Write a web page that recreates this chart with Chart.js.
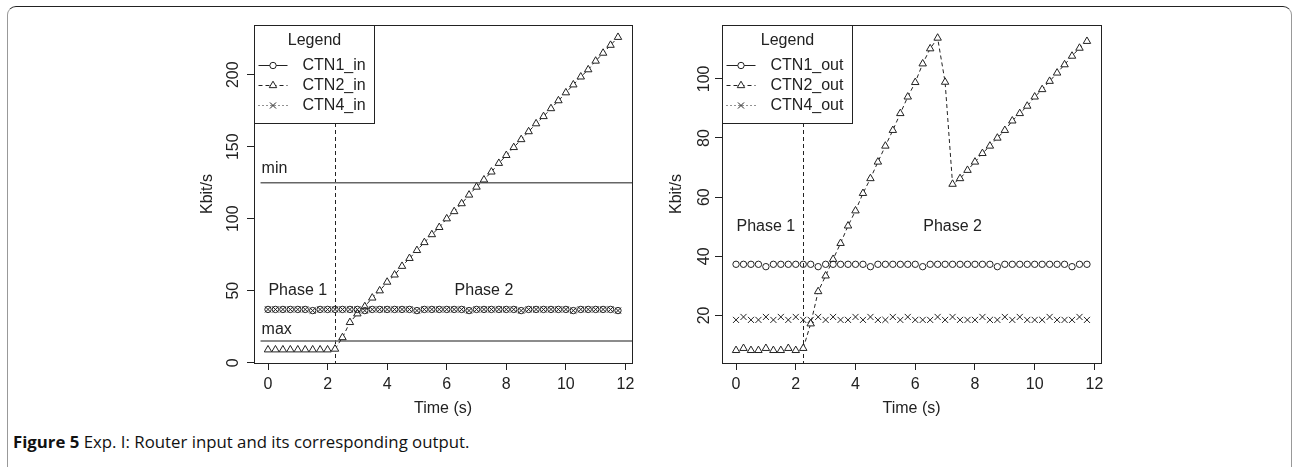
<!DOCTYPE html>
<html>
<head>
<meta charset="utf-8">
<script src="https://cdn.jsdelivr.net/npm/chart.js@4.4.1/dist/chart.umd.min.js"></script>
<style>
  html, body { margin: 0; padding: 0; background: #fff; }
  body { width: 1292px; height: 467px; position: relative; overflow: hidden; }
  .frame {
    position: absolute; left: 7px; top: 6px; width: 1285px; height: 520px;
    border-top: 1.5px solid #222; border-left: 1px solid #999; border-right: 1px solid #999;
    border-radius: 9px 9px 0 0; box-sizing: border-box;
  }
  .panel { position: absolute; top: 0; width: 480px; height: 430px; }
  #left { left: 180px; }
  #right { left: 660px; }
  .caption {
    position: absolute; left: 13px; top: 430px; white-space: nowrap;
    font: 16.8px 'Open Sans', sans-serif; color: #111;
  }
  .caption b { font-weight: 700; }
</style>
</head>
<body>
<div class="frame"></div>
<div class="panel" id="left"><canvas id="chart-in"></canvas></div>
<div class="panel" id="right"><canvas id="chart-out"></canvas></div>
<div class="caption"><b>Figure 5</b> Exp. I: Router input and its corresponding output.</div>
<script>
// Time axis (s), one sample every 0.25 s
const TIME = [0, 0.25, 0.5, 0.75, 1, 1.25, 1.5, 1.75, 2, 2.25,
  2.5, 2.75, 3, 3.25, 3.5, 3.75, 4, 4.25, 4.5, 4.75,
  5, 5.25, 5.5, 5.75, 6, 6.25, 6.5, 6.75, 7, 7.25,
  7.5, 7.75, 8, 8.25, 8.5, 8.75, 9, 9.25, 9.5, 9.75,
  10, 10.25, 10.5, 10.75, 11, 11.25, 11.5, 11.75]

// Router input (Kbit/s)
const CTN1_IN = [37, 37, 37, 37, 37, 37, 36.2, 37, 37, 37,
  37, 37, 37, 36.2, 37, 37, 37, 37, 37, 37,
  36.2, 37, 37, 37, 37, 37, 37, 36.2, 37, 37,
  37, 37, 37, 37, 36.2, 37, 37, 37, 37, 37,
  37, 36.2, 37, 37, 37, 37, 37, 36.2]
const CTN2_IN = [9, 9, 9, 9, 9, 9, 9, 9, 9, 9.5,
  17.5, 28, 34, 39, 45, 50, 56, 61, 67, 72.5,
  78, 83.5, 89, 94, 100, 105, 110.5, 116.5, 122, 127,
  132.5, 138.5, 144, 149.5, 155, 160.5, 166, 171, 176.5, 182,
  187.5, 193, 198.5, 203.5, 209.5, 215, 220.5, 226]
const CTN4_IN = [37, 37, 37, 37, 37, 37, 36.2, 37, 37, 37,
  37, 37, 37, 36.2, 37, 37, 37, 37, 37, 37,
  36.2, 37, 37, 37, 37, 37, 37, 36.2, 37, 37,
  37, 37, 37, 37, 36.2, 37, 37, 37, 37, 37,
  37, 36.2, 37, 37, 37, 37, 37, 36.2]

// Router output (Kbit/s)
const CTN1_OUT = [37.3, 37.3, 37.3, 37.3, 36.5, 37.3, 37.3, 37.3, 37.3, 37.3,
  37.3, 36.5, 37.3, 37.3, 37.3, 37.3, 37.3, 37.3, 36.5, 37.3,
  37.3, 37.3, 37.3, 37.3, 37.3, 36.5, 37.3, 37.3, 37.3, 37.3,
  37.3, 37.3, 37.3, 37.3, 37.3, 36.5, 37.3, 37.3, 37.3, 37.3,
  37.3, 37.3, 37.3, 37.3, 37.3, 36.5, 37.3, 37.3]
const CTN2_OUT = [8.2, 8.9, 8.2, 8.2, 8.9, 8.2, 8.2, 8.9, 8.2, 8.9,
  17.2, 28.1, 33.4, 39, 44.4, 50.3, 55.4, 61.3, 66.3, 71.9,
  77.3, 82.6, 88.3, 93.9, 98.8, 105.1, 110.2, 113.8, 98.9, 64.4,
  66.3, 69.1, 71.9, 74.8, 77.3, 80, 82.6, 85.8, 88.3, 90.8,
  93.9, 96.4, 99.2, 102, 104.8, 107.7, 110.4, 112.7]
const CTN4_OUT = [18.5, 19.5, 18.5, 18.5, 19.5, 18.5, 19.5, 18.5, 19.5, 18.5,
  18.5, 19.5, 18.5, 19.5, 18.5, 18.5, 19.5, 18.5, 19.5, 18.5,
  18.5, 19.5, 18.5, 19.5, 18.5, 18.5, 18.5, 19.5, 18.5, 19.5,
  18.5, 18.5, 18.5, 19.5, 18.5, 18.5, 19.5, 18.5, 19.5, 18.5,
  18.5, 18.5, 19.5, 18.5, 18.5, 18.5, 19.5, 18.5]

const IN_LABELS = ['CTN1_in', 'CTN2_in', 'CTN4_in']
const OUT_LABELS = ['CTN1_out', 'CTN2_out', 'CTN4_out']

const X_TICKS = [0, 2, 4, 6, 8, 10, 12]
const IN_Y_TICKS = [0, 50, 100, 150, 200]
const OUT_Y_TICKS = [20, 40, 60, 80, 100]

const PHASE_SWITCH = 2.25 // s
const RATE_MIN = 125
const RATE_MAX = 15

const TEXT = '#222'
const FONT = "'Liberation Sans', Arial, sans-serif"
const GAP = 9 // segments shorter than this many px are hidden (R type="b")

const STYLES = [
  { pointStyle: 'circle', pointRadius: 3.2, borderDash: [], fill: 'transparent' },
  { pointStyle: 'triangle', pointRadius: 4.3, borderDash: [4, 3], fill: '#fff' },
  { pointStyle: 'crossRot', pointRadius: 4.3, borderDash: [1, 3], fill: 'transparent' },
]

function drawMarker(ctx, style, x, y, r) {
  ctx.beginPath()
  if (style === 'circle') {
    ctx.arc(x, y, r, 0, Math.PI * 2)
    ctx.fill()
  } else if (style === 'triangle') {
    ctx.moveTo(x, y - r)
    ctx.lineTo(x + 0.866 * r, y + 0.5 * r)
    ctx.lineTo(x - 0.866 * r, y + 0.5 * r)
    ctx.closePath()
    ctx.fill()
  } else {
    const d = 0.707 * r
    ctx.moveTo(x - d, y - d); ctx.lineTo(x + d, y + d)
    ctx.moveTo(x + d, y - d); ctx.lineTo(x - d, y + d)
  }
  ctx.stroke()
}

const decor = {
  id: 'decor',
  beforeDatasetsDraw(chart, args, opts) {
    const { ctx, chartArea: a, scales: { x, y } } = chart
    ctx.save()
    ctx.strokeStyle = TEXT
    ctx.lineWidth = 1
    ctx.setLineDash([4, 3])
    const px = Math.round(x.getPixelForValue(PHASE_SWITCH)) + 0.5
    ctx.beginPath(); ctx.moveTo(px, a.top); ctx.lineTo(px, a.bottom); ctx.stroke()
    ctx.setLineDash([])

    ctx.font = '16px ' + FONT
    ctx.fillStyle = TEXT
    // limit lines
    ;(opts.limits || []).forEach((l) => {
      const ly = y.getPixelForValue(l.y)
      const lx = x.getPixelForValue(-0.25)
      ctx.strokeStyle = '#666'
      ctx.lineWidth = 1.5
      ctx.beginPath(); ctx.moveTo(lx, ly); ctx.lineTo(a.right, ly); ctx.stroke()
      ctx.textAlign = 'left'
      ctx.textBaseline = 'alphabetic'
      ctx.fillText(l.text, lx + 1, y.getPixelForValue(l.textY))
    })
    // phase labels
    ctx.textAlign = 'center'
    ctx.textBaseline = 'middle'
    ctx.fillText('Phase 1', x.getPixelForValue(1), y.getPixelForValue(50))
    ctx.fillText('Phase 2', x.getPixelForValue(7.25), y.getPixelForValue(50))
    ctx.restore()
  },
  afterDraw(chart, args, opts) {
    const { ctx, chartArea: a } = chart
    ctx.save()
    // legend
    const ds = chart.data.datasets
    ctx.font = '16px ' + FONT
    const tw = Math.max(...ds.map((d) => ctx.measureText(d.label).width))
    const w = Math.round(48 + tw + 9), h = 98
    const lx = a.left + 0.5, ly = a.top + 0.5
    ctx.fillStyle = '#fff'
    ctx.fillRect(lx, ly, w, h)
    ctx.strokeStyle = TEXT
    ctx.lineWidth = 1
    ctx.strokeRect(lx, ly, w, h)
    ctx.fillStyle = TEXT
    ctx.textAlign = 'center'
    ctx.textBaseline = 'middle'
    ctx.fillText('Legend', lx + w / 2, ly + 15)
    ds.forEach((d, i) => {
      const ry = ly + 40 + i * 20
      ctx.strokeStyle = TEXT
      ctx.setLineDash(d.borderDash)
      ctx.beginPath(); ctx.moveTo(lx + 4, ry); ctx.lineTo(lx + 33, ry); ctx.stroke()
      ctx.setLineDash([])
      ctx.fillStyle = '#fff'
      drawMarker(ctx, d.pointStyle, lx + 18.5, ry, d.pointRadius)
      ctx.fillStyle = TEXT
      ctx.textAlign = 'left'
      ctx.fillText(d.label, lx + 48, ry)
    })
    // plot box
    ctx.strokeStyle = TEXT
    ctx.strokeRect(Math.round(a.left) + 0.5, Math.round(a.top) + 0.5,
      Math.round(a.right - a.left), Math.round(a.bottom - a.top))
    ctx.restore()
  },
}

function makePanel(canvasId, p) {
  const ctx = document.getElementById(canvasId)
  new Chart(ctx, {
    type: 'scatter',
    data: {
      datasets: p.series.map((vals, i) => ({
        label: p.labels[i],
        data: TIME.map((t, k) => ({ x: t, y: vals[k] })),
        showLine: true,
        borderColor: TEXT,
        borderWidth: 1,
        borderDash: STYLES[i].borderDash,
        pointStyle: STYLES[i].pointStyle,
        pointRadius: STYLES[i].pointRadius,
        pointBorderWidth: 1,
        pointBorderColor: TEXT,
        pointBackgroundColor: STYLES[i].fill,
        segment: {
          borderColor: (c) => Math.hypot(c.p1.x - c.p0.x, c.p1.y - c.p0.y) < GAP ? 'transparent' : undefined,
        },
      })),
    },
    options: {
      responsive: true,
      maintainAspectRatio: false,
      animation: false,
      events: [],
      layout: { padding: p.pad },
      scales: {
        x: {
          type: 'linear',
          min: -0.47,
          max: 12.22,
          afterBuildTicks: (s) => { s.ticks = X_TICKS.map((v) => ({ value: v })) },
          afterFit: (s) => { s.height = 60 },
          grid: { drawOnChartArea: false, drawTicks: true, tickLength: 7, color: TEXT },
          border: { display: false },
          ticks: { autoSkip: false, maxRotation: 0, padding: 5, color: TEXT, font: { family: FONT, size: 16 } },
          title: { display: true, text: 'Time (s)', color: TEXT, padding: { top: 4, bottom: 4.5 }, font: { family: FONT, size: 16 } },
        },
        y: {
          type: 'linear',
          min: p.yMin,
          max: p.yMax,
          afterBuildTicks: (s) => { s.ticks = p.yTicks.map((v) => ({ value: v })) },
          afterFit: (s) => { s.width = p.yWidth },
          grid: { drawOnChartArea: false, drawTicks: true, tickLength: 7, color: TEXT },
          border: { display: false },
          ticks: {
            autoSkip: false, minRotation: 90, maxRotation: 90, crossAlign: 'center',
            padding: p.tickPad, color: TEXT, font: { family: FONT, size: 16 },
          },
          title: { display: true, text: 'Kbit/s', color: TEXT, padding: { top: 4, bottom: 4 }, font: { family: FONT, size: 16 } },
        },
      },
      plugins: {
        legend: { display: false },
        tooltip: { enabled: false },
        decor: { limits: p.limits },
      },
    },
    plugins: [decor],
  })
}

makePanel('chart-in', {
  series: [CTN1_IN, CTN2_IN, CTN4_IN],
  labels: IN_LABELS,
  yMin: -0.2, yMax: 234.5, yTicks: IN_Y_TICKS,
  pad: { left: 14, right: 28, top: 25, bottom: 7 },
  yWidth: 60, tickPad: 0,
  limits: [
    { y: RATE_MIN, text: 'min', textY: 131.5 },
    { y: RATE_MAX, text: 'max', textY: 19.6 },
  ],
})

makePanel('chart-out', {
  series: [CTN1_OUT, CTN2_OUT, CTN4_OUT],
  labels: OUT_LABELS,
  yMin: 3.93, yMax: 118.2, yTicks: OUT_Y_TICKS,
  pad: { left: 3, right: 39, top: 25, bottom: 7 },
  yWidth: 59, tickPad: -3,
  limits: [],
})
</script>
</body>
</html>
